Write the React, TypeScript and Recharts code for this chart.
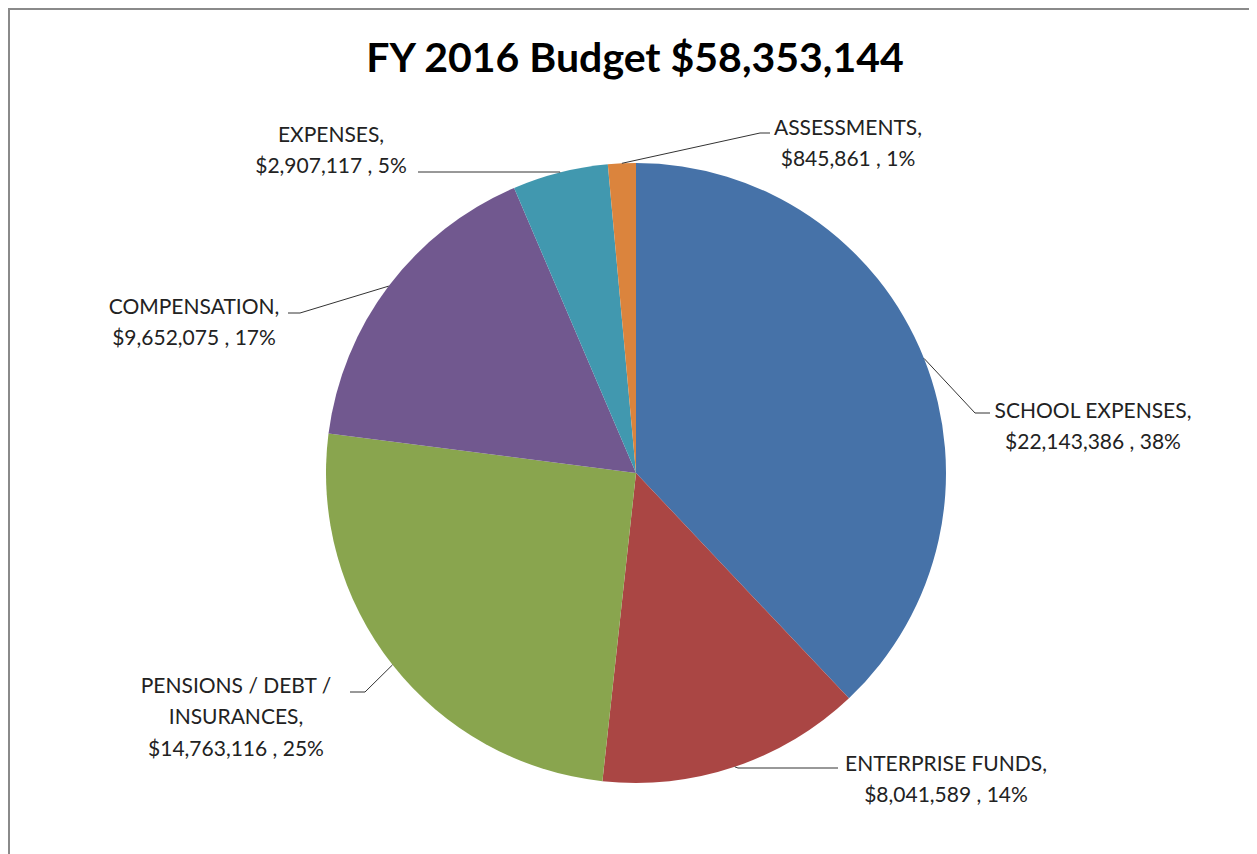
import { PieChart, Pie, Cell } from 'recharts'

const categories = [
    'SCHOOL EXPENSES',
    'ENTERPRISE FUNDS',
    'PENSIONS / DEBT / INSURANCES',
    'COMPENSATION',
    'EXPENSES',
    'ASSESSMENTS',
]
const amounts = [22143386, 8041589, 14763116, 9652075, 2907117, 845861]
const COLORS = ['#4672A8', '#AA4644', '#89A54E', '#71588F', '#4198AF', '#DB843D']
const TITLE = 'FY 2016 Budget $58,353,144'

// how the category names wrap in the labels
const nameLines = [
    ['SCHOOL EXPENSES,'],
    ['ENTERPRISE FUNDS,'],
    ['PENSIONS / DEBT /', 'INSURANCES,'],
    ['COMPENSATION,'],
    ['EXPENSES,'],
    ['ASSESSMENTS,'],
]

const data = categories.map((name, i) => ({ name, value: amounts[i] }))
const total = amounts.reduce((a, b) => a + b, 0)

const W = 1270
const H = 860
// recharts adds its default 5px margin to cx / cy
const CX = 623
const CY = 460
const R = 310
const FONT = 'Lato, "Open Sans", sans-serif'

// label placement (chart coords): leader elbow, leader end, text centre x, baselines
const labelPos = [
    { elbow: [967, 405], end: [982, 405], tx: 1085, ys: [410, 441] },
    { elbow: [730, 760], end: [830, 760], tx: 938, ys: [763, 794] },
    { elbow: [357, 684], end: [342, 684], tx: 228, ys: [685, 716, 748] },
    { elbow: [292, 305], end: [280, 305], tx: 186, ys: [306, 337] },
    { elbow: [552, 164], end: [410, 164], tx: 323, ys: [134, 165] },
    { elbow: [752, 125], end: [762, 125], tx: 840, ys: [127, 158] },
]

const RADIAN = Math.PI / 180
const fmt = (v: number) => '$' + v.toLocaleString('en-US')

const renderLabel = (props: any) => {
    const { cx, cy, midAngle, outerRadius, index, value } = props
    const sx = cx + outerRadius * Math.cos(-midAngle * RADIAN)
    const sy = cy + outerRadius * Math.sin(-midAngle * RADIAN)
    const pos = labelPos[index]
    const pct = Math.round((value / total) * 100)
    const lines = [...nameLines[index], `${fmt(value)} , ${pct}%`]
    return (
        <g key={`lbl-${index}`}>
            <polyline
                points={`${sx},${sy} ${pos.elbow[0]},${pos.elbow[1]} ${pos.end[0]},${pos.end[1]}`}
                fill="none"
                stroke="#333"
                strokeWidth={1}
            />
            {lines.map((t, j) => (
                <text
                    key={j}
                    x={pos.tx}
                    y={pos.ys[j]}
                    textAnchor="middle"
                    fontFamily={FONT}
                    fontSize={21}
                    fill="#222"
                >
                    {t}
                </text>
            ))}
        </g>
    )
}

export default function App() {
    return (
        <div style={{ position: 'relative', width: W, height: H }}>
            <style>{'html, body { overflow: hidden; }'}</style>
            <div
                style={{
                    position: 'absolute',
                    left: 0,
                    top: 0,
                    width: W,
                    height: H,
                    borderTop: '2px solid #8a8a8a',
                    borderLeft: '2px solid #8a8a8a',
                    boxSizing: 'border-box',
                }}
            />
            <svg
                width={W}
                height={80}
                style={{ position: 'absolute', left: 0, top: 0 }}
            >
                <text
                    x={627}
                    y={64}
                    textAnchor="middle"
                    fontFamily={FONT}
                    fontWeight={700}
                    fontSize={41}
                    fill="#000"
                >
                    {TITLE}
                </text>
            </svg>
            <div style={{ position: 'absolute', left: 0, top: 0 }}>
                <PieChart width={W} height={H}>
                    <Pie
                        data={data}
                        dataKey="value"
                        cx={CX}
                        cy={CY}
                        outerRadius={R}
                        startAngle={90}
                        endAngle={-270}
                        stroke="none"
                        label={renderLabel}
                        labelLine={false}
                        isAnimationActive={false}
                    >
                        {data.map((_entry, index) => (
                            <Cell key={`cell-${index}`} fill={COLORS[index % COLORS.length]} />
                        ))}
                    </Pie>
                </PieChart>
            </div>
        </div>
    )
}
